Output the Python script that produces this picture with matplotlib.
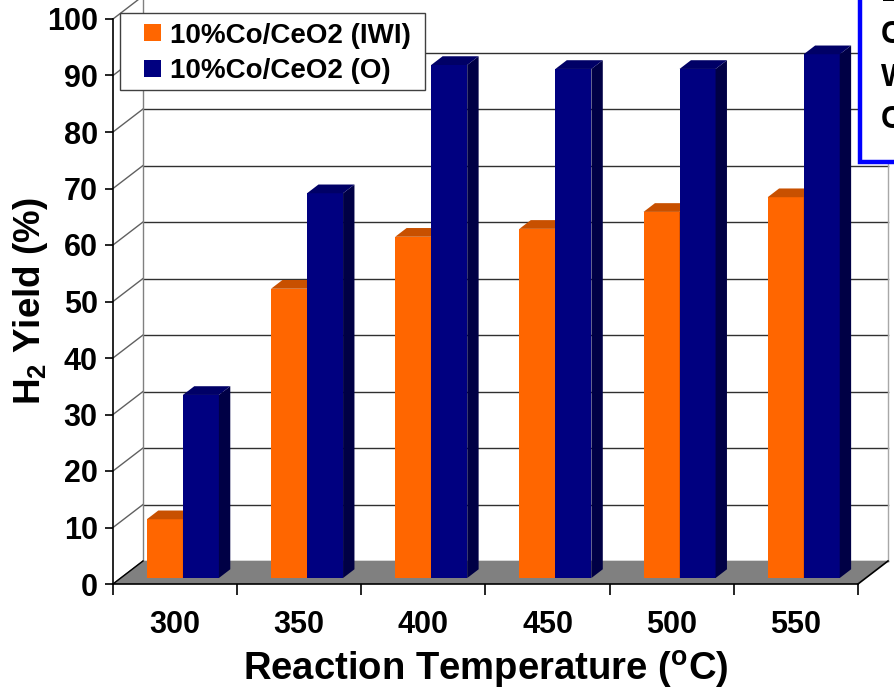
import matplotlib
matplotlib.use("Agg")
import matplotlib.pyplot as plt
from matplotlib.patches import Polygon, Rectangle, Patch
import numpy as np

# ---- data ----
temperatures = ["300", "350", "400", "450", "500", "550"]
series_names = ["10%Co/CeO2 (IWI)", "10%Co/CeO2 (O)"]
yield_iwi = [10.4, 51.2, 60.4, 61.8, 64.8, 67.4]
yield_o = [32.4, 68.1, 90.8, 90.1, 90.1, 92.7]
y_ticks = list(range(0, 101, 10))
side_note = ["E", "C", "W", "C"]

# ---- fonts ----
plt.rcParams["font.family"] = ["Liberation Sans", "DejaVu Sans"]
plt.rcParams["font.weight"] = "bold"
plt.rcParams["mathtext.fontset"] = "custom"
plt.rcParams["mathtext.rm"] = "Liberation Sans:bold"
plt.rcParams["mathtext.it"] = "Liberation Sans:bold"
plt.rcParams["mathtext.bf"] = "Liberation Sans:bold"

W, H = 894, 693
fig = plt.figure(figsize=(W / 100, H / 100), dpi=100)
ax = fig.add_axes([113 / W, 1 - 584 / H, 745 / W, 565 / H])
n = len(temperatures)
ax.set_xlim(-0.5, n - 0.5)
ax.set_ylim(0, 100)
ax.set_facecolor("none")

# depth of the 3-D box (offset of the back wall) in data units
DX, DY = 0.2416, 4.07
x0, x1 = -0.5, n - 0.5

# back wall grid, left wall diagonals, wall edges
for v in y_ticks:
    ax.plot([x0 + DX, x1 + DX], [v + DY, v + DY], color="#303030", lw=1,
            clip_on=False, zorder=1)
    ax.plot([x0, x0 + DX], [v, v + DY], color="#606060", lw=1,
            clip_on=False, zorder=1)
ax.plot([x0 + DX, x0 + DX], [DY, 100 + DY], color="#808080", lw=1,
        clip_on=False, zorder=1)
ax.plot([x1 + DX, x1 + DX], [DY, 100 + DY], color="#a8a8a8", lw=1,
        clip_on=False, zorder=1)

# floor
ax.add_patch(Polygon([(x0, 0), (x1, 0), (x1 + DX, DY), (x0 + DX, DY)],
                     closed=True, fc="#808080", ec="none", zorder=2,
                     clip_on=False))
ax.plot([x1, x1 + DX], [0, DY], color="black", lw=1.2, clip_on=False, zorder=2)
ax.plot([x0, x0 + DX], [0, DY], color="black", lw=1.0, clip_on=False, zorder=2)

# bars with front, side and top faces
f0, fd = 0.26, 0.38
sx, sy = f0 * DX, f0 * DY
bdx, bdy = fd * DX, fd * DY
width = 0.29
series = [
    (yield_iwi, -width, "#FF6600", "#C85000", "#B04000"),
    (yield_o, 0.0, "#000080", "#000066", "#000045"),
]
xs = np.arange(n)
for k, (vals, off, c_front, c_top, c_side) in enumerate(series):
    z = 3 + k
    left = xs + off + sx
    ax.bar(left, vals, width=width, bottom=sy, align="edge", color=c_front,
           zorder=z, clip_on=False, linewidth=0)
    for xl, v in zip(left, vals):
        xr = xl + width
        top = sy + v
        ax.add_patch(Polygon([(xr, sy), (xr + bdx, sy + bdy),
                              (xr + bdx, top + bdy), (xr, top)],
                             closed=True, fc=c_side, ec="none", zorder=z,
                             clip_on=False))
        ax.add_patch(Polygon([(xl, top), (xr, top), (xr + bdx, top + bdy),
                              (xl + bdx, top + bdy)],
                             closed=True, fc=c_top, ec="none", zorder=z,
                             clip_on=False))

# axes, ticks, labels
for s in ["top", "right"]:
    ax.spines[s].set_visible(False)
for s in ["left", "bottom"]:
    ax.spines[s].set_color("black")
    ax.spines[s].set_linewidth(1.2)
    ax.spines[s].set_zorder(6)

ax.set_yticks(y_ticks)
ax.set_yticklabels([str(v) for v in y_ticks])
ax.tick_params(axis="y", direction="out", length=6, width=1.2, pad=5,
               labelsize=22)
ax.set_xticks(np.arange(n + 1) - 0.5)
ax.set_xticklabels([""] * (n + 1))
ax.tick_params(axis="x", which="major", direction="out", length=8, width=1.2)
ax.set_xticks(xs, minor=True)
ax.set_xticklabels(temperatures, minor=True)
ax.tick_params(axis="x", which="minor", length=0, pad=19, labelsize=22)
for lab in ax.get_xticklabels(minor=True) + ax.get_yticklabels():
    lab.set_fontweight("bold")

ax.set_xlabel(r"Reaction Temperature ($^\mathrm{o}$C)", fontsize=27.5,
              fontweight="bold")
ax.xaxis.set_label_coords(0.5, -0.152)
ax.xaxis.label.set_va("center")
ax.set_ylabel(r"H$_2$ Yield (%)", fontsize=26.5, fontweight="bold")
ax.yaxis.set_label_coords(-0.111, 0.5)
ax.yaxis.label.set_va("center")

# legend: separate frame with the entries placed inside it
fig.patches.append(Rectangle((120 / W, 1 - 90 / H), 305 / W, 77 / H,
                             transform=fig.transFigure, fc="white",
                             ec="#404040", lw=1.0, zorder=9))
handles = [Patch(fc="#FF6600", ec="none"), Patch(fc="#000080", ec="none")]
leg = fig.legend(handles, series_names, loc="center left",
                 bbox_to_anchor=(144 / W, 1 - 53.5 / H),
                 bbox_transform=fig.transFigure, borderaxespad=0,
                 frameon=False, handlelength=0.62, handleheight=0.55,
                 handletextpad=0.33, borderpad=0, labelspacing=0.35,
                 prop={"weight": "bold", "size": 20})
leg.set_zorder(10)

# framed note at the top-right edge
fig.patches.append(Rectangle((860 / W, 1 - 162 / H), 0.2, 0.4,
                             transform=fig.transFigure, fc="white",
                             ec="#0000FF", lw=3.2, zorder=11))
for i, t in enumerate(side_note):
    fig.text(881 / W, 1 - (-7 + 42.3 * i) / H, t, ha="left", va="center",
             fontsize=22, fontweight="bold", zorder=12)

fig.savefig("out.png", dpi=100)
